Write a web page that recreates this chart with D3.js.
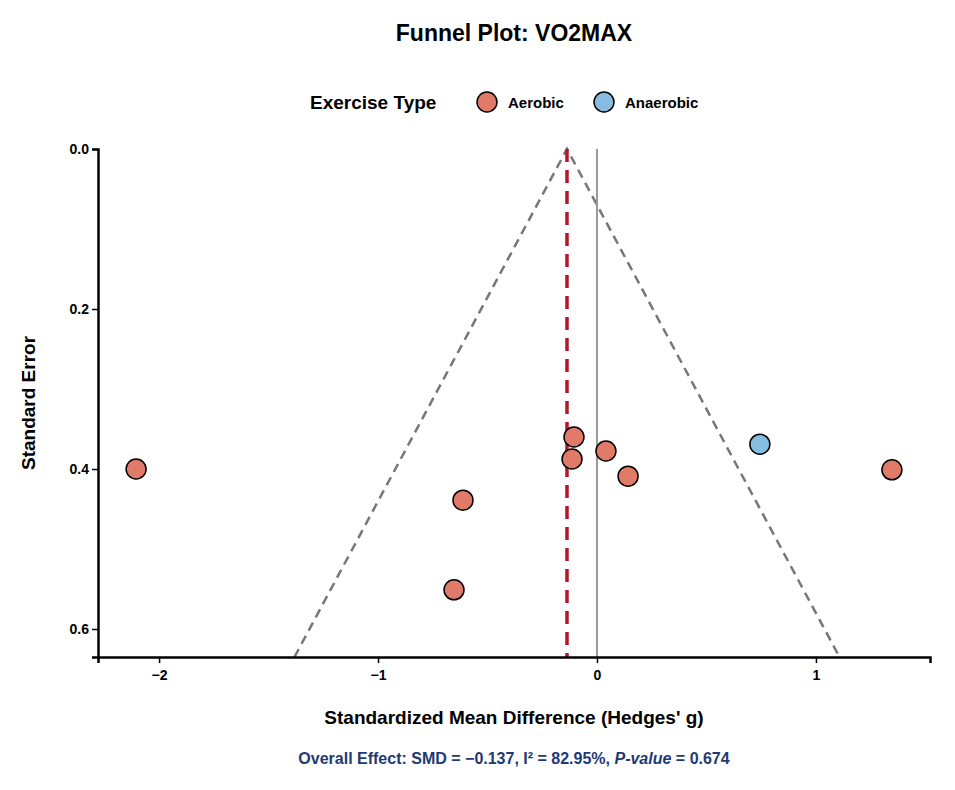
<!DOCTYPE html>
<html><head><meta charset="utf-8">
<script src="https://cdn.jsdelivr.net/npm/d3@7"></script>
<style>body{margin:0;background:#fff;font-family:"Liberation Sans",Arial,sans-serif}</style>
</head><body>
<script>
// study-level data
var smd   = [-2.105, -0.612, -0.653, -0.105, -0.114, 0.041, 0.142, 1.347, 0.744]
var se    = [0.400, 0.439, 0.551, 0.360, 0.3875, 0.3775, 0.409, 0.401, 0.369]
var type  = ["Aerobic","Aerobic","Aerobic","Aerobic","Aerobic","Aerobic","Aerobic","Aerobic","Anaerobic"]
var types = ["Aerobic","Anaerobic"]
var colors = ["#E07B6A","#86BCE0"]
var pooled = -0.137
var xTicks = [-2,-1,0,1]
var yTicks = [0,0.2,0.4,0.6]

var W = 955, H = 790
var svg = d3.select("body").append("svg").attr("width",W).attr("height",H)
  .style("font-family","'Liberation Sans',Arial,sans-serif")
var x = d3.scaleLinear().domain([-2.279,1.521]).range([98,930])
var y = d3.scaleLinear().domain([0,0.635]).range([149,657])
var col = d3.scaleOrdinal().domain(types).range(colors)

svg.append("text").attr("x",514).attr("y",41).attr("text-anchor","middle")
  .attr("font-size",23).attr("font-weight","bold").text("Funnel Plot: VO2MAX")

// legend
var lg = svg.append("g")
lg.append("text").attr("x",310).attr("y",109).attr("font-size",19).attr("font-weight","bold").text("Exercise Type")
var lx = [487,604]
types.forEach(function(t,i){
  lg.append("circle").attr("cx",lx[i]).attr("cy",102).attr("r",10)
    .attr("fill",col(t)).attr("stroke","#000").attr("stroke-width",1.5)
  lg.append("text").attr("x",lx[i]+21).attr("y",108).attr("font-size",15).attr("font-weight","bold").text(t)
})

// funnel
var seMax = 0.635
svg.append("path")
  .attr("d", d3.line()([[x(pooled-1.96*seMax),y(seMax)],[x(pooled),y(0)],[x(pooled+1.96*seMax),y(seMax)]]))
  .attr("fill","none").attr("stroke","#777").attr("stroke-width",2.5).attr("stroke-dasharray","9,6")
svg.append("line").attr("x1",x(0)).attr("x2",x(0)).attr("y1",y(0)).attr("y2",y(seMax))
  .attr("stroke","#999").attr("stroke-width",2)
svg.append("line").attr("x1",x(pooled)).attr("x2",x(pooled)).attr("y1",y(0)).attr("y2",y(seMax))
  .attr("stroke","#B2182B").attr("stroke-width",3.5).attr("stroke-dasharray","13,8")

svg.selectAll("circle.pt").data(smd).enter().append("circle").attr("class","pt")
  .attr("cx",function(d){return x(d)}).attr("cy",function(d,i){return y(se[i])})
  .attr("r",10).attr("fill",function(d,i){return col(type[i])})
  .attr("stroke","#000").attr("stroke-width",1.5)

// axes
var xa = svg.append("g").attr("transform","translate(0,657)")
  .call(d3.axisBottom(x).tickValues(xTicks).tickSize(6).tickFormat(function(d){return d<0?"\u2212"+(-d):d}))
var ya = svg.append("g").attr("transform","translate(98,0)")
  .call(d3.axisLeft(y).tickValues(yTicks).tickSize(6).tickFormat(d3.format(".1f")))
;[xa,ya].forEach(function(a){
  a.select(".domain").attr("stroke","#000").attr("stroke-width",2.5)
  a.selectAll(".tick line").attr("stroke","#000").attr("stroke-width",1.5)
  a.selectAll(".tick text").attr("font-size",14).attr("font-weight","bold").attr("fill","#000")
    .style("font-family","'Liberation Sans',Arial,sans-serif")
})
xa.selectAll(".tick text").attr("dy","1em")

svg.append("text").attr("x",514).attr("y",724).attr("text-anchor","middle")
  .attr("font-size",19).attr("font-weight","bold").text("Standardized Mean Difference (Hedges' g)")
svg.append("text").attr("transform","translate(35,403) rotate(-90)").attr("text-anchor","middle")
  .attr("font-size",19).attr("font-weight","bold").text("Standard Error")

var ft = svg.append("text").attr("x",514).attr("y",764).attr("text-anchor","middle")
  .attr("font-size",16).attr("font-weight","bold").attr("fill","#1F3A73")
ft.append("tspan").text("Overall Effect: SMD = \u22120.137, I\u00B2 = 82.95%, ")
ft.append("tspan").attr("font-style","italic").text("P-value")
ft.append("tspan").text(" = 0.674")
</script>
</body></html>
